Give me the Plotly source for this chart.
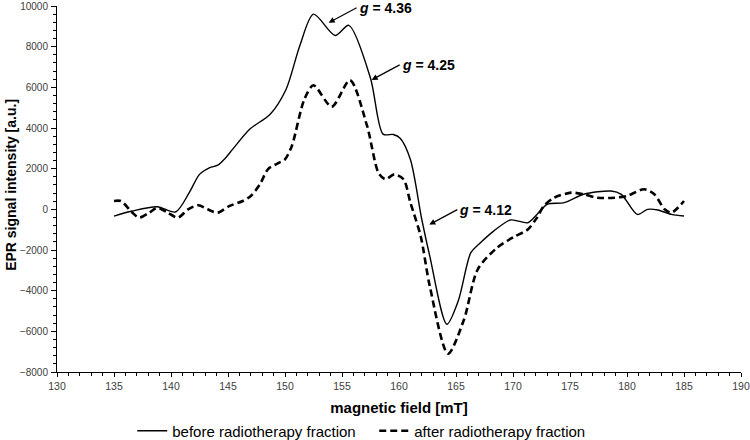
import plotly.graph_objects as go

# magnetic field [mT] and EPR signal intensity [a.u.]
field_before = [135, 136.6, 138.8, 140.4, 141.6, 142.5, 143.4, 144.1, 144.8, 145.4, 146.9, 148.7,
                150.1, 151.3, 152.5, 154.4, 155.6, 157.5, 158.6, 159.5, 160.1, 161.0, 162.0, 162.7,
                164.2, 165.2, 166.3, 167.0, 168.3, 169.8, 171.3, 172.1, 173.0, 174.5, 176.2, 178.6,
                179.5, 180.9, 181.8, 182.7, 183.9, 185]
signal_before = [-330, -80, 130, -130, 820, 1720, 2050, 2170, 2540, 2950, 3940, 4680,
                 5910, 8050, 9600, 8550, 9050, 6450, 3700, 3680, 3500, 2450, -500, -2300,
                 -5650, -4500, -2130, -1720, -1070, -520, -660, -250, 250, 330, 740, 900,
                 740, -250, 0, -30, -250, -330]

field_after = [135, 135.6, 136.6, 137.2, 138.1, 138.8, 139.7, 140.6, 141.5, 142.4, 143.2, 144.1,
               145.1, 146.3, 147.0, 147.8, 148.5, 149.5, 150.0, 150.6, 151.7, 152.5, 154.1, 155.7,
               157.2, 158.2, 158.8, 159.6, 160.4, 161.0, 161.9, 162.7, 164.3, 165.7, 166.9, 168.6,
               170.1, 171.3, 172.1, 172.7, 173.6, 175.1, 176.2, 177.4, 178.9, 180.0, 181.5, 182.4,
               183.3, 183.9, 185]
signal_after = [410, 410, -160, -410, -160, 80, -160, -410, 0, 200, 0, -160,
                160, 410, 660, 1230, 1970, 2300, 2460, 3120, 5420, 6100, 5050, 6350,
                4100, 1800, 1480, 1720, 1480, 330, -1310, -3780, -7100, -5420, -2960, -1890,
                -1350, -990, -410, 160, 570, 820, 740, 570, 570, 660, 990, 740,
                0, -160, 410]

series_names = ["before radiotherapy fraction", "after radiotherapy fraction"]

# axis ticks
x_ticks = [130, 135, 140, 145, 150, 155, 160, 165, 170, 175, 180, 185, 190]
y_ticks = [-8000, -6000, -4000, -2000, 0, 2000, 4000, 6000, 8000, 10000]

# g-factor labels: text, arrow head (field, signal)
g_labels = ["<i>g</i> = 4.36", "<i>g</i> = 4.25", "<i>g</i> = 4.12"]
g_field = [153.83, 157.6, 162.66]
g_signal = [9180, 6367, -751]

FONT = "Liberation Sans, Arial, sans-serif"

fig = go.Figure()
fig.add_trace(go.Scatter(x=field_before, y=signal_before, mode="lines", name=series_names[0],
                         line=dict(color="black", width=1.4, shape="spline", smoothing=0.8)))
fig.add_trace(go.Scatter(x=field_after, y=signal_after, mode="lines", name=series_names[1],
                         line=dict(color="black", width=2.6, dash="7px,4px", shape="spline", smoothing=0.8)))

for t, gx, gy in zip(g_labels, g_field, g_signal):
    fig.add_annotation(x=gx, y=gy, text="<b>" + t + "</b>", showarrow=True,
                       ax=28, ay=-15, xanchor="left", yanchor="middle",
                       arrowhead=2, arrowsize=1, arrowwidth=1.2, arrowcolor="black",
                       font=dict(family=FONT, size=14, color="black"))

# y-axis title as a rotated annotation for exact placement
fig.add_annotation(x=-0.0665, y=0.51, xref="paper", yref="paper", showarrow=False,
                   text="<b>EPR signal intensity [a.u.]</b>", textangle=-90,
                   xanchor="center", yanchor="middle",
                   font=dict(family=FONT, size=14, color="black"))

fig.update_layout(
    width=750, height=440,
    margin=dict(l=57, r=9, t=6, b=68, autoexpand=False),
    plot_bgcolor="white", paper_bgcolor="white",
    font=dict(family=FONT),
    showlegend=True,
    legend=dict(orientation="h", x=0.11, xanchor="left", y=-0.161, yanchor="middle",
                font=dict(family=FONT, size=15, color="black"), itemwidth=30,
                entrywidth=197, entrywidthmode="pixels",
                bgcolor="rgba(0,0,0,0)"),
)
fig.update_xaxes(range=[130, 190], tickvals=x_ticks, showgrid=False, zeroline=False,
                 automargin=False, ticklabeloverflow="allow",
                 showline=True, linecolor="black", linewidth=1,
                 ticks="outside", ticklen=4, tickcolor="black",
                 minor=dict(ticks="outside", dtick=1, ticklen=3, tickcolor="black"),
                 tickfont=dict(family=FONT, size=10.5, color="#404040"),
                 title=dict(text="<b>magnetic field [mT]</b>", font=dict(family=FONT, size=15, color="black"),
                            standoff=11))
fig.update_yaxes(range=[-8000, 10001], tickvals=y_ticks, tickformat="d", showgrid=False, zeroline=False,
                 automargin=False, ticklabeloverflow="allow",
                 showline=True, linecolor="black", linewidth=1,
                 ticks="outside", ticklen=5, tickcolor="black",
                 minor=dict(ticks="outside", dtick=400, ticklen=3, tickcolor="black"),
                 tickfont=dict(family=FONT, size=10, color="#404040"),
                 ticklabelstandoff=1)

fig.write_html("out.html", config={"displayModeBar": False},
               post_script="document.body.style.margin='0';")
